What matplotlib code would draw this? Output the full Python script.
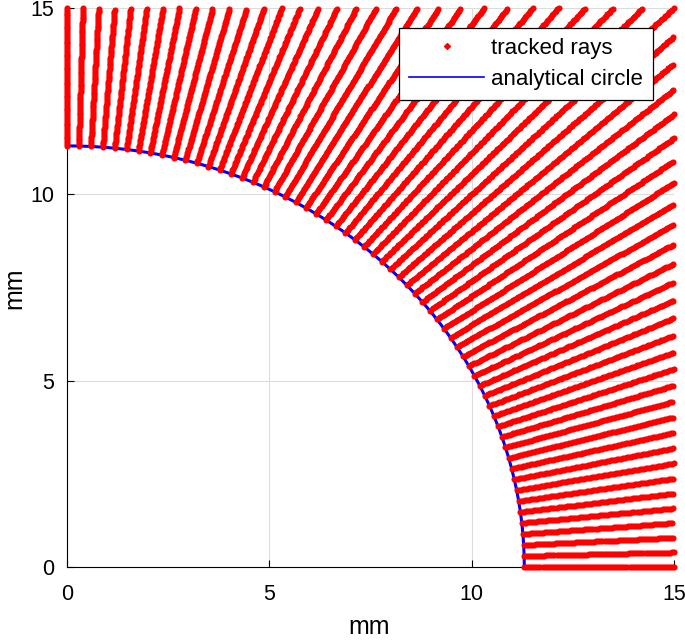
import matplotlib
matplotlib.use('Agg')
import matplotlib.pyplot as plt
import numpy as np
from matplotlib.lines import Line2D

# circle radius (mm) and plot limits
radius_mm = 11.3
axis_lim = [0, 15]
ticks = [0, 5, 10, 15]

# launch angles of the tracked rays (deg)
ray_angles_deg = [
    0, 1.5, 3, 4.5, 6, 7.5, 9, 10.5, 12, 13.5, 15, 16.5, 18, 19.5, 21, 22.5,
    24, 25.5, 27, 28.5, 30, 31.5, 33, 34.5, 36, 37.5, 39, 40.5, 42, 43.5, 45,
    46.5, 48, 49.5, 51, 52.5, 54, 55.5, 57, 58.5, 60, 61.5, 63, 64.5, 66, 67.5,
    69, 70.5, 72, 73.5, 75, 76.5, 78, 79.5, 81, 82.5, 84, 85.5, 87, 88.5, 90,
]
ray_step_mm = 0.05

plt.rcParams['font.family'] = ['Liberation Sans', 'DejaVu Sans']

fig = plt.figure(figsize=(6.85, 6.4), dpi=100)
ax = fig.add_axes([0.0978, 0.114, 0.8862, 0.8735])

# circle
phi = np.radians(np.linspace(0, 90, 200))
ax.plot(radius_mm * np.cos(phi), radius_mm * np.sin(phi), color='blue',
        lw=2.2, zorder=2, clip_on=False)

# rays: samples from the circle out to the edge of the box
xs, ys = [], []
for a in ray_angles_deg:
    th = np.radians(a)
    c, s = np.cos(th), np.sin(th)
    t_end = axis_lim[1] / max(c, s)
    t = np.arange(radius_mm, t_end + 1e-9, ray_step_mm)
    xs.append(t * c)
    ys.append(t * s)
ax.plot(np.concatenate(xs), np.concatenate(ys), linestyle='none', marker='o',
        ms=4.4, mfc='red', mec='red', mew=0, color='red', zorder=3,
        clip_on=False)

ax.set_xlim(axis_lim)
ax.set_ylim(axis_lim)
ax.set_xticks(ticks)
ax.set_yticks(ticks)
ax.grid(True, color='#dcdcdc', lw=0.8)
ax.set_axisbelow(True)
for sp in ['top', 'right']:
    ax.spines[sp].set_visible(False)
ax.tick_params(direction='in', length=5, width=0.8, labelsize=15.5)
ax.tick_params(axis='x', pad=12)
ax.tick_params(axis='y', pad=9)

# axis labels (placed in figure pixels, close to the edges)
fig.text(369 / 685, 1 - 634 / 640, 'mm', fontsize=18, ha='center', va='baseline')
fig.text(21 / 685, 1 - 288 / 640, 'mm', fontsize=18, rotation=90,
         rotation_mode='anchor', ha='center', va='baseline')

handles = [
    Line2D([0], [0], linestyle='none', marker='D', ms=3, color='red',
           label='tracked rays'),
    Line2D([0], [0], color='blue', lw=1.2, label='analytical circle'),
]
leg = ax.legend(handles=handles, loc='upper right', bbox_to_anchor=(0.9654, 0.9642),
                fontsize=16, fancybox=False, edgecolor='black', framealpha=1,
                handlelength=3.4, borderpad=0.45, labelspacing=0.45,
                handletextpad=0.3, borderaxespad=0)
leg.get_frame().set_linewidth(0.9)

fig.savefig('out.png', dpi=100)
